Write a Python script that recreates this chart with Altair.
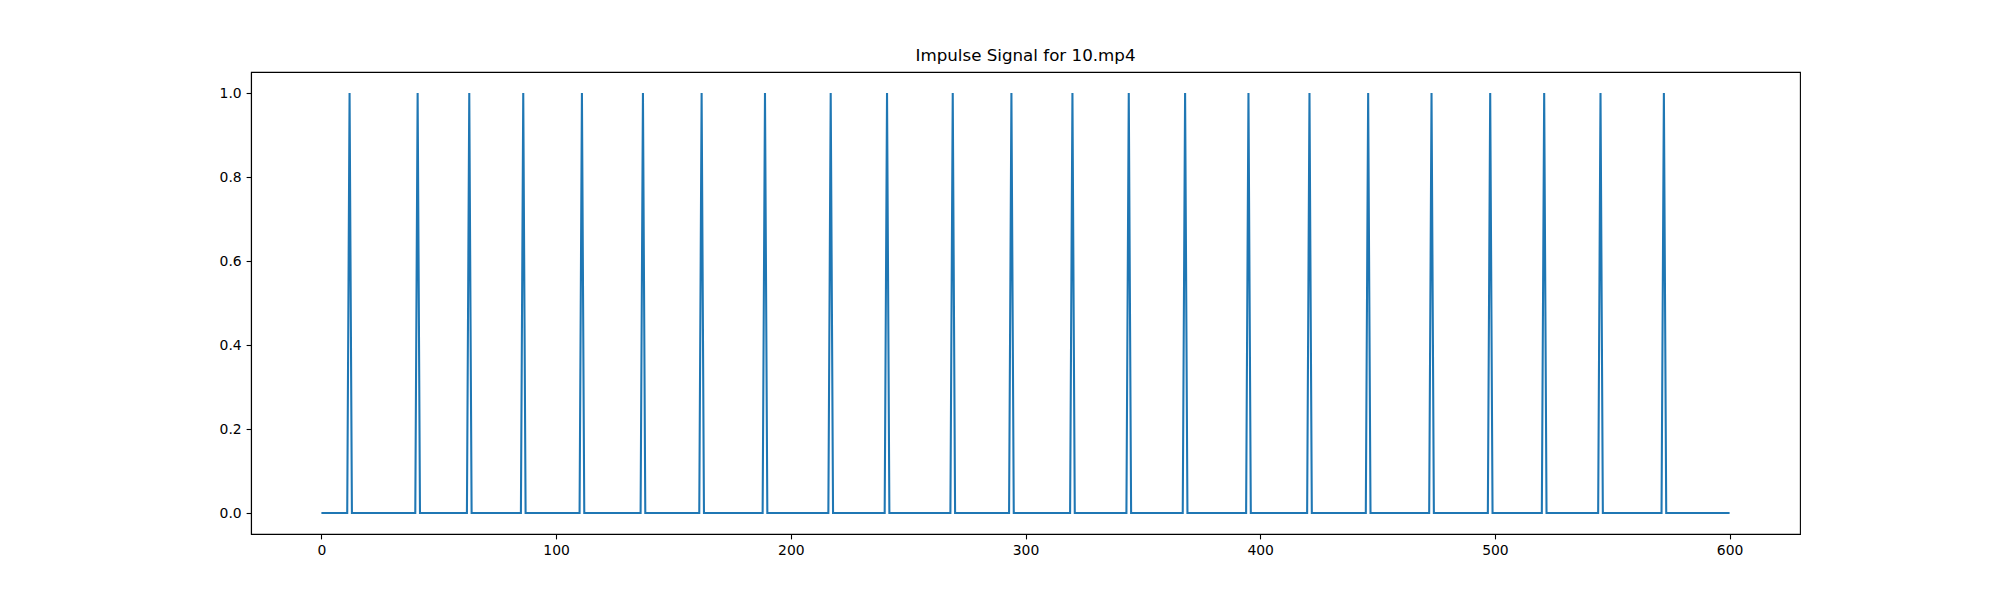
import altair as alt
import pandas as pd

# Sample indices (frames) where the impulse signal equals 1
spike_frames = [12, 41, 63, 86, 111, 137, 162, 189, 217, 241, 269, 294,
                320, 344, 368, 395, 421, 446, 473, 498, 521, 545, 572]
n_frames = 601  # frames 0..600
x_ticks = [0, 100, 200, 300, 400, 500, 600]
y_ticks = [0.0, 0.2, 0.4, 0.6, 0.8, 1.0]
title_text = "Impulse Signal for 10.mp4"

spike_set = set(spike_frames)
df = pd.DataFrame({
    "frame": list(range(n_frames)),
    "value": [1.0 if i in spike_set else 0.0 for i in range(n_frames)],
})

font = "DejaVu Sans"

chart = alt.Chart(df).mark_line(color="#1f77b4", strokeWidth=2.08, clip=True).encode(
    x=alt.X("frame:Q",
            scale=alt.Scale(domain=[-30, 630], nice=False, zero=False),
            axis=alt.Axis(values=x_ticks, title=None, format="d", grid=False,
                          domain=True, domainColor="black", domainWidth=1.1,
                          tickColor="black", tickSize=4.9, tickWidth=1.1,
                          labelPadding=4.9, labelFontSize=13.9, labelFont=font,
                          labelColor="black")),
    y=alt.Y("value:Q",
            scale=alt.Scale(domain=[-0.05, 1.05], nice=False, zero=False),
            axis=alt.Axis(values=y_ticks, title=None, format=".1f", grid=False,
                          domain=True, domainColor="black", domainWidth=1.1,
                          tickColor="black", tickSize=4.9, tickWidth=1.1,
                          labelPadding=4.9, labelFontSize=13.9, labelFont=font,
                          labelColor="black")),
).properties(
    width=1549,
    height=462,
    background="white",
    title=alt.TitleParams(title_text, font=font, fontSize=16.7, fontWeight="normal",
                          color="black", anchor="middle", offset=7),
    autosize=alt.AutoSizeParams(type="none"),
    padding={"left": 243, "top": 64, "right": 184, "bottom": 50},
).configure_view(
    stroke="black", strokeWidth=1.1
)

chart.save("out.html", embed_options={"renderer": "svg", "actions": False})
